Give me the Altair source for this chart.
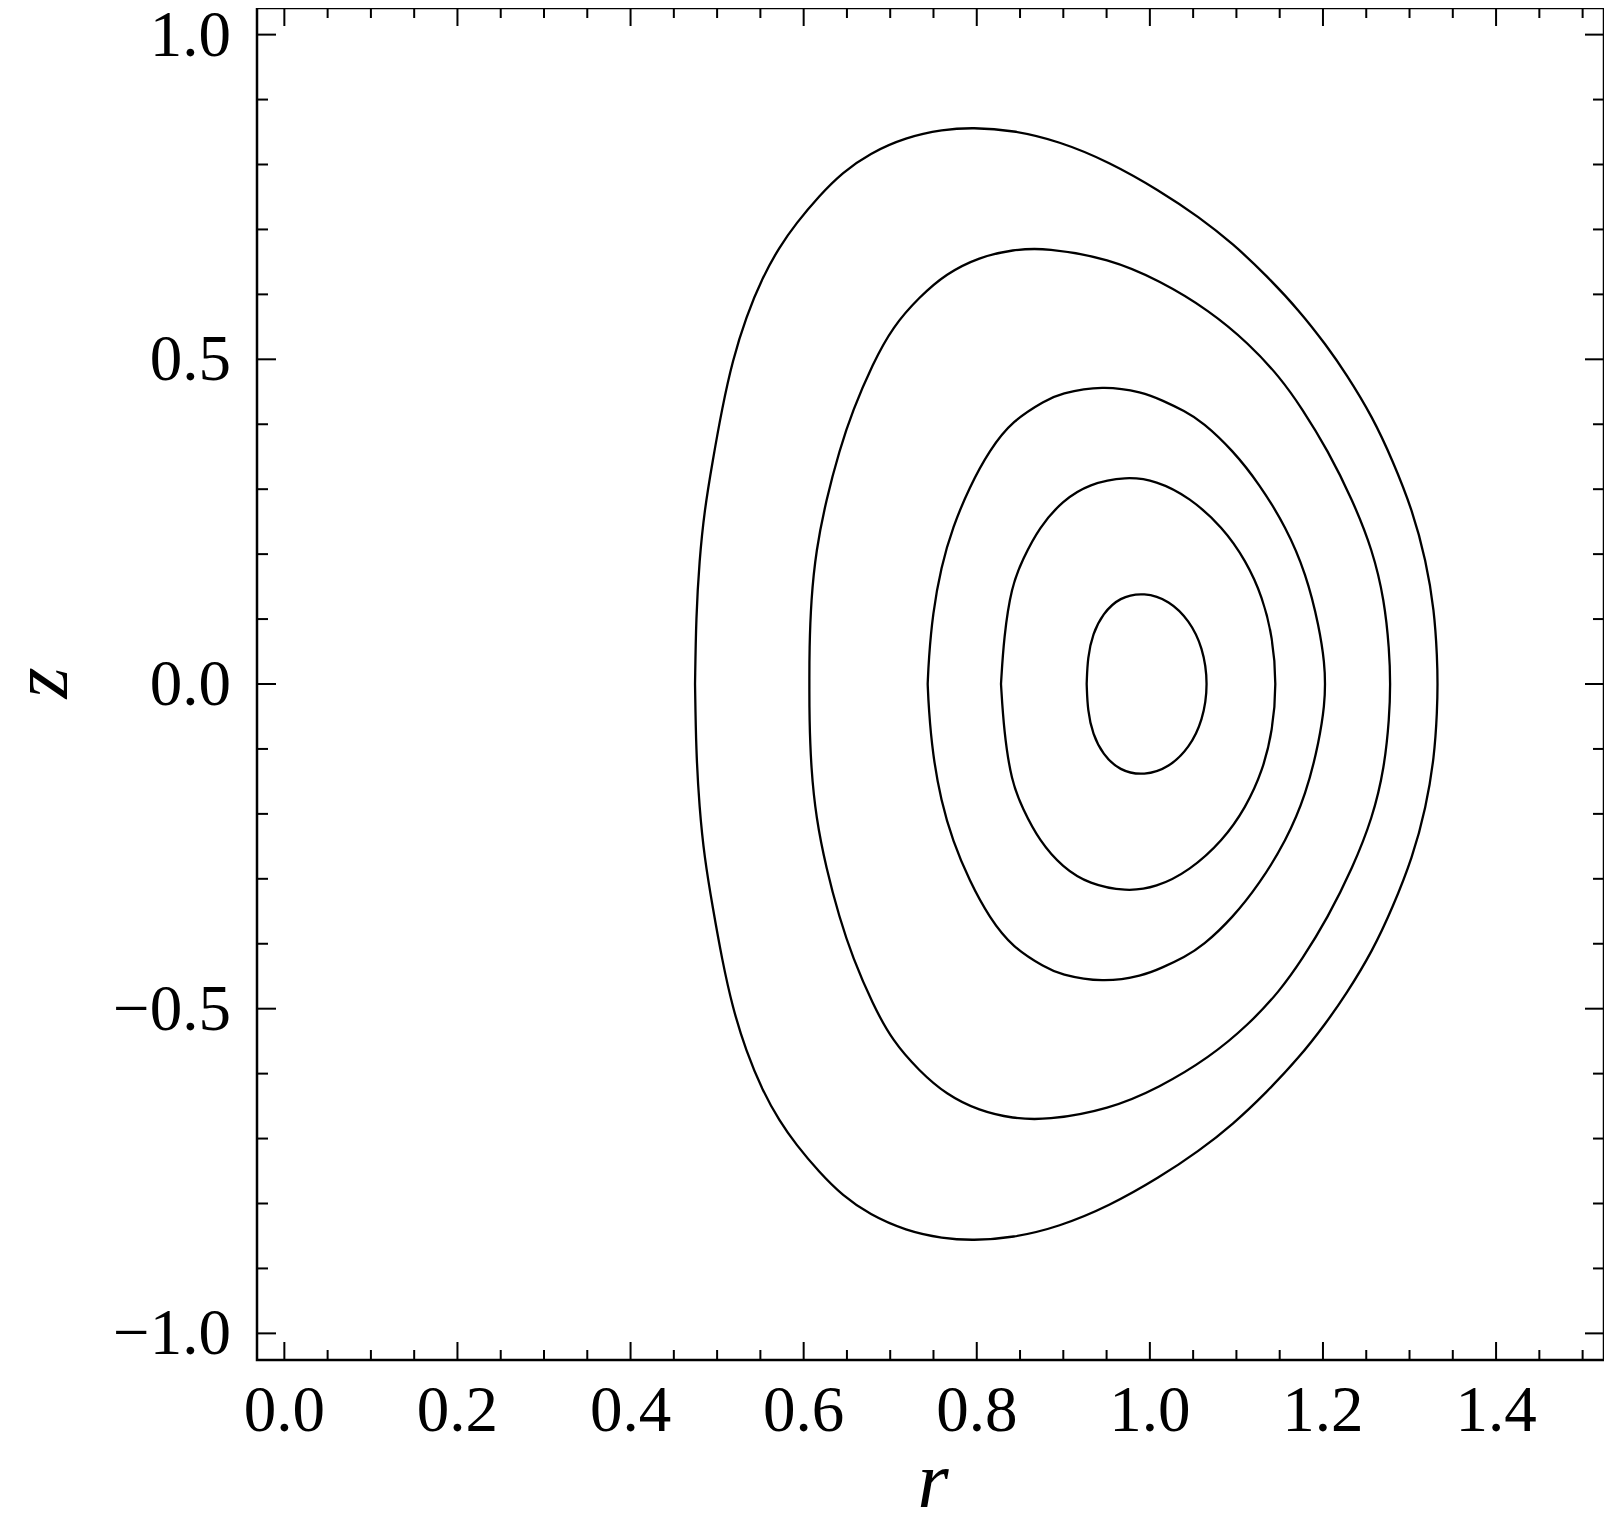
import altair as alt
import pandas as pd

# ---- contour curves (r, z); upper half then lower half ----
R1 = [0.4745, 0.4757, 0.4795, 0.4853, 0.4949, 0.5058, 0.5178, 0.5334, 0.5527, 0.572, 0.591, 0.618, 0.645, 0.676,
      0.718, 0.761, 0.795, 0.8415, 0.895, 0.953, 1.011, 1.057, 1.096, 1.134, 1.1727, 1.2036, 1.2267, 1.2574,
      1.2806, 1.3036, 1.319, 1.3287, 1.332, 1.3325,
      1.332, 1.3287, 1.319, 1.3036, 1.2806, 1.2574, 1.2267, 1.2036, 1.1727, 1.134, 1.096, 1.057, 1.011, 0.953,
      0.895, 0.8415, 0.795, 0.761, 0.718, 0.676, 0.645, 0.618, 0.591, 0.572, 0.5527, 0.5334, 0.5178, 0.5058,
      0.4949, 0.4853, 0.4795, 0.4757, 0.4745]
Z1 = [0.0, 0.103, 0.190, 0.267, 0.344, 0.425, 0.498, 0.565, 0.627, 0.673, 0.709, 0.752, 0.788, 0.817,
      0.842, 0.854, 0.857, 0.853, 0.836, 0.804, 0.760, 0.719, 0.678, 0.630, 0.575, 0.522, 0.478, 0.411,
      0.344, 0.267, 0.190, 0.113, 0.040, 0.0,
      -0.040, -0.113, -0.190, -0.267, -0.344, -0.411, -0.478, -0.522, -0.575, -0.630, -0.678, -0.719, -0.760,
      -0.804, -0.836, -0.853, -0.857, -0.854, -0.842, -0.817, -0.788, -0.752, -0.709, -0.673, -0.627, -0.565,
      -0.498, -0.425, -0.344, -0.267, -0.190, -0.103, 0.0]

R2 = [0.6066, 0.6066, 0.6085, 0.6143, 0.6259, 0.6413, 0.6566, 0.6797, 0.7028, 0.7337, 0.7645, 0.803, 0.8415,
      0.880, 0.953, 1.011, 1.069, 1.1145, 1.150, 1.176, 1.2055, 1.2343, 1.2574, 1.271, 1.2767, 1.278,
      1.2767, 1.271, 1.2574, 1.2343, 1.2055, 1.176, 1.150, 1.1145, 1.069, 1.011, 0.953, 0.880, 0.8415, 0.803,
      0.7645, 0.7337, 0.7028, 0.6797, 0.6566, 0.6413, 0.6259, 0.6143, 0.6085, 0.6066, 0.6066]
Z2 = [0.0, 0.052, 0.129, 0.206, 0.283, 0.360, 0.421, 0.493, 0.550, 0.596, 0.632, 0.6575, 0.669,
      0.672, 0.655, 0.6215, 0.575, 0.524, 0.473, 0.424, 0.360, 0.283, 0.206, 0.129, 0.052, 0.0,
      -0.052, -0.129, -0.206, -0.283, -0.360, -0.424, -0.473, -0.524, -0.575, -0.6215, -0.655, -0.672, -0.669,
      -0.6575, -0.632, -0.596, -0.550, -0.493, -0.421, -0.360, -0.283, -0.206, -0.129, -0.052, 0.0]

R3 = [0.7433, 0.7444, 0.749, 0.7587, 0.7722, 0.7915, 0.8146, 0.8415, 0.880, 0.8954, 0.9455, 0.9917, 1.0148,
      1.040, 1.061, 1.0957, 1.1265, 1.1574, 1.1805, 1.1958, 1.2020, 1.2025,
      1.2020, 1.1958, 1.1805, 1.1574, 1.1265, 1.0957, 1.061, 1.040, 1.0148, 0.9917, 0.9455, 0.8954, 0.880,
      0.8415, 0.8146, 0.7915, 0.7722, 0.7587, 0.749, 0.7444, 0.7433]
Z3 = [0.0, 0.036, 0.108, 0.180, 0.2415, 0.303, 0.360, 0.406, 0.437, 0.447, 0.460, 0.4495, 0.4365,
      0.4205, 0.4035, 0.360, 0.308, 0.2415, 0.170, 0.0875, 0.030, 0.0,
      -0.030, -0.0875, -0.170, -0.2415, -0.308, -0.360, -0.4035, -0.4205, -0.4365, -0.4495, -0.460, -0.447,
      -0.437, -0.406, -0.360, -0.303, -0.2415, -0.180, -0.108, -0.036, 0.0]

R4 = [0.828, 0.8313, 0.8400, 0.853, 0.8723, 0.8993, 0.930, 0.9725, 1.0072, 1.0457, 1.0841, 1.111, 1.1303,
      1.1418, 1.1465,
      1.1418, 1.1303, 1.111, 1.0841, 1.0457, 1.0072, 0.9725, 0.930, 0.8993, 0.8723, 0.853, 0.8400, 0.8313, 0.828]
Z4 = [0.0, 0.072, 0.1500, 0.1920, 0.2415, 0.2827, 0.3084, 0.3196, 0.3135, 0.2877, 0.2415, 0.190, 0.1337,
      0.072, 0.0,
      -0.072, -0.1337, -0.190, -0.2415, -0.2877, -0.3135, -0.3196, -0.3084, -0.2827, -0.2415, -0.1920, -0.1500,
      -0.072, 0.0]

R5 = [0.927, 0.9281, 0.934, 0.9455, 0.9648, 0.9936, 1.0225, 1.0457, 1.0611, 1.0677,
      1.0611, 1.0457, 1.0225, 0.9936, 0.9648, 0.9455, 0.934, 0.9281, 0.927]
Z5 = [0.0, 0.041, 0.0773, 0.108, 0.1337, 0.1414, 0.1286, 0.0978, 0.0567, 0.0,
      -0.0567, -0.0978, -0.1286, -0.1414, -0.1337, -0.108, -0.0773, -0.041, 0.0]

# ---- axis ticks and labels ----
X_MAJOR = [0.0, 0.2, 0.4, 0.6, 0.8, 1.0, 1.2, 1.4]
X_LABELS = ["0.0", "0.2", "0.4", "0.6", "0.8", "1.0", "1.2", "1.4"]
X_MINOR = [0.05, 0.1, 0.15, 0.25, 0.3, 0.35, 0.45, 0.5, 0.55, 0.65, 0.7, 0.75, 0.85, 0.9, 0.95,
           1.05, 1.1, 1.15, 1.25, 1.3, 1.35, 1.45, 1.5]
Y_MAJOR = [-1.0, -0.5, 0.0, 0.5, 1.0]
Y_LABELS = ["\u22121.0", "\u22120.5", "0.0", "0.5", "1.0"]
Y_MINOR = [-0.9, -0.8, -0.7, -0.6, -0.4, -0.3, -0.2, -0.1, 0.1, 0.2, 0.3, 0.4, 0.6, 0.7, 0.8, 0.9]
X_TITLE = "r"
Y_TITLE = "z"

W, H = 1347, 1352
FONT = "Liberation Serif"

rows = []
for k, (rs, zs) in enumerate([(R1, Z1), (R2, Z2), (R3, Z3), (R4, Z4), (R5, Z5)]):
    assert len(rs) == len(zs)
    for i, (r, z) in enumerate(zip(rs, zs)):
        rows.append({"curve": k, "i": i, "r": r, "z": z})
df = pd.DataFrame(rows)

xscale = alt.Scale(domain=[-0.0316, 1.5247], nice=False, zero=False)
yscale = alt.Scale(domain=[-1.041, 1.041], nice=False, zero=False)

lines = alt.Chart(df).mark_line(color="black", strokeWidth=2.3, interpolate="basis").encode(
    x=alt.X("r:Q", scale=xscale, axis=None),
    y=alt.Y("z:Q", scale=yscale, axis=None),
    detail="curve:N",
    order="i:Q",
)


def xticks(vals, length):
    d = pd.DataFrame({"r": vals})
    base = alt.Chart(d).mark_rule(color="black", strokeWidth=2)
    bottom = base.encode(x=alt.X("r:Q", scale=xscale, axis=None), y=alt.value(H), y2=alt.value(H - length))
    top = base.encode(x=alt.X("r:Q", scale=xscale, axis=None), y=alt.value(0), y2=alt.value(length))
    return [bottom, top]


def yticks(vals, length):
    d = pd.DataFrame({"z": vals})
    base = alt.Chart(d).mark_rule(color="black", strokeWidth=2)
    left = base.encode(y=alt.Y("z:Q", scale=yscale, axis=None), x=alt.value(0), x2=alt.value(length))
    right = base.encode(y=alt.Y("z:Q", scale=yscale, axis=None), x=alt.value(W), x2=alt.value(W - length))
    return [left, right]


xlab = alt.Chart(pd.DataFrame({"r": X_MAJOR, "label": X_LABELS})).mark_text(
    font=FONT, fontSize=65, color="black", align="center", baseline="alphabetic", dy=71
).encode(x=alt.X("r:Q", scale=xscale, axis=None), y=alt.value(H), text="label:N")

ylab = alt.Chart(pd.DataFrame({"z": Y_MAJOR, "label": Y_LABELS})).mark_text(
    font=FONT, fontSize=65, color="black", align="right", baseline="alphabetic", dx=-26, dy=21
).encode(y=alt.Y("z:Q", scale=yscale, axis=None), x=alt.value(0), text="label:N")

xtitle = alt.Chart(pd.DataFrame({"t": [X_TITLE]})).mark_text(
    font=FONT, fontSize=80, fontStyle="italic", color="black", align="center", baseline="alphabetic"
).encode(x=alt.value(676), y=alt.value(H + 147), text="t:N")

ytitle = alt.Chart(pd.DataFrame({"t": [Y_TITLE]})).mark_text(
    font=FONT, fontSize=80, fontStyle="italic", color="black", align="center", baseline="alphabetic",
    angle=270
).encode(x=alt.value(-190), y=alt.value(675), text="t:N")

layers = ([lines] + xticks(X_MAJOR, 18) + xticks(X_MINOR, 10) + yticks(Y_MAJOR, 19) + yticks(Y_MINOR, 11)
          + [xlab, ylab, xtitle, ytitle])

chart = alt.layer(*layers).properties(
    width=W, height=H,
    autosize=alt.AutoSizeParams(type="none"),
    padding={"left": 249, "top": 0, "right": 0, "bottom": 150},
).configure_view(
    stroke="black", strokeWidth=2.5
)

chart.save("out.html", embed_options={"renderer": "svg", "actions": False})
